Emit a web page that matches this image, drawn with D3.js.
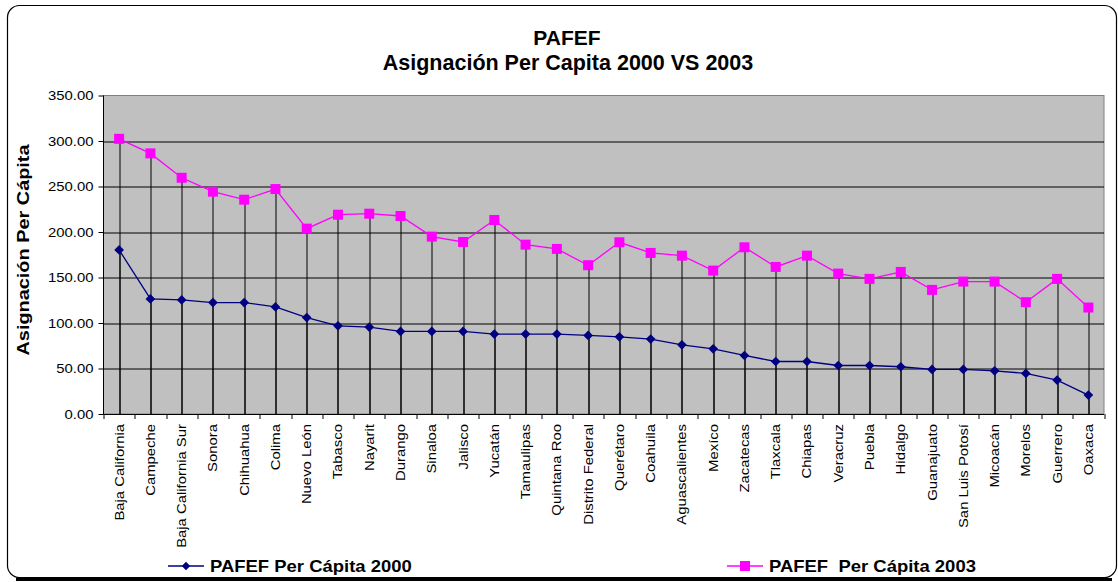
<!DOCTYPE html>
<html>
<head>
<meta charset="utf-8">
<script src="https://cdn.jsdelivr.net/npm/d3@7"></script>
<style>
  body { margin: 0; background: #fff; }
  svg { display: block; font-family: Arial, "Liberation Sans", sans-serif; }
</style>
</head>
<body>
<svg id="chart" width="1118" height="582"></svg>
<script>
// categories (states) in the order they appear on the axis
const estados = [
  "Baja California", "Campeche", "Baja California Sur", "Sonora", "Chihuahua",
  "Colima", "Nuevo León", "Tabasco", "Nayarit", "Durango", "Sinaloa", "Jalisco",
  "Yucatán", "Tamaulipas", "Quintana Roo", "Distrito Federal", "Querétaro",
  "Coahuila", "Aguascalientes", "Mexíco", "Zacatecas", "Tlaxcala", "Chiapas",
  "Veracruz", "Puebla", "Hidalgo", "Guanajuato", "San Luis  Potosí", "Micoacán",
  "Morelos", "Guerrero", "Oaxaca"
];

const perCapita2000 = [
  180.3, 126.5, 125.4, 122.5, 122.5, 117.7, 106.0, 96.9, 95.5, 90.7, 90.7, 90.7,
  87.8, 87.8, 87.8, 86.3, 84.8, 82.3, 76.0, 71.6, 64.3, 57.7, 57.7, 53.3,
  53.3, 51.9, 49.0, 49.0, 47.5, 44.6, 37.3, 20.8
];

const perCapita2003 = [
  302.4, 286.4, 259.6, 244.3, 235.5, 247.2, 203.7, 219.0, 220.1, 217.6, 194.9, 189.0,
  213.2, 186.1, 181.4, 163.5, 188.7, 177.0, 174.0, 157.6, 183.2, 161.6, 174.0, 154.3,
  148.5, 156.1, 136.4, 145.5, 145.5, 122.9, 148.5, 117.0
];

const yTicks = [0, 50, 100, 150, 200, 250, 300, 350];

const serie2000 = "PAFEF Per Cápita 2000";
const serie2003 = "PAFEF  Per Cápita 2003";

const svg = d3.select("#chart");
const margin = { top: 95.5, right: 14, bottom: 168, left: 103.5 };
const W = 1118, H = 582;
const width = W - margin.left - margin.right;
const height = H - margin.top - margin.bottom;

// the original text is drawn a little wider than plain Arial
const SX = 1.19;

// outer frame
svg.append("rect")
  .attr("x", 7.5).attr("y", 5.5)
  .attr("width", 1109).attr("height", 572)
  .attr("rx", 12).attr("ry", 12)
  .attr("fill", "none").attr("stroke", "#000").attr("stroke-width", 1.2);
svg.append("line")
  .attr("x1", 16).attr("x2", 1112).attr("y1", 579.5).attr("y2", 579.5)
  .attr("stroke", "#000").attr("stroke-width", 3);

// titles
svg.append("text").attr("transform", "translate(567,45)")
  .attr("text-anchor", "middle").attr("font-weight", "bold").attr("font-size", 21)
  .text("PAFEF");
svg.append("text").attr("transform", "translate(568,69.5)")
  .attr("text-anchor", "middle").attr("font-weight", "bold").attr("font-size", 21.5)
  .text("Asignación Per Capita 2000 VS 2003");

const g = svg.append("g").attr("transform", `translate(${margin.left},${margin.top})`);

const x = d3.scaleBand().domain(estados).range([0, width]).paddingInner(0).paddingOuter(0);
const y = d3.scaleLinear().domain([0, 350]).range([height, 0]);
const cx = d => x(d) + x.bandwidth() / 2;

// plot area
g.append("rect").attr("width", width).attr("height", height)
  .attr("fill", "#C0C0C0").attr("stroke", "#808080").attr("stroke-width", 1);

// gridlines
g.append("g").selectAll("line").data(yTicks.filter(t => t > 0 && t < 350)).join("line")
  .attr("x1", 0).attr("x2", width)
  .attr("y1", d => Math.round(y(d)) + 0.5).attr("y2", d => Math.round(y(d)) + 0.5)
  .attr("stroke", "#000").attr("stroke-width", 1);

// drop lines for both series
[perCapita2003, perCapita2000].forEach(vals => {
  g.append("g").selectAll("line").data(estados).join("line")
    .attr("x1", d => Math.round(cx(d)) + 0.5).attr("x2", d => Math.round(cx(d)) + 0.5)
    .attr("y1", (d, i) => y(vals[i])).attr("y2", height)
    .attr("stroke", "#000").attr("stroke-width", 1);
});

// y axis
const yAxis = g.append("g")
  .call(d3.axisLeft(y).tickValues(yTicks).tickSize(5).tickPadding(4).tickFormat(d3.format(".2f")));
yAxis.selectAll("text")
  .attr("font-size", 12.5).attr("fill", "#000")
  .attr("font-family", "Arial, 'Liberation Sans', sans-serif")
  .attr("x", -10 / SX).attr("transform", `scale(${SX},1)`);
yAxis.selectAll("line,path").attr("stroke", "#000");
yAxis.select(".domain").attr("d", `M0,0V${height}`);

// x axis: ticks between categories
const xAxis = g.append("g").attr("transform", `translate(0,${height})`);
xAxis.append("line").attr("x1", 0).attr("x2", width).attr("y1", 0.5).attr("y2", 0.5)
  .attr("stroke", "#000");
xAxis.selectAll("line.tk").data(d3.range(estados.length + 1)).join("line")
  .attr("class", "tk")
  .attr("x1", i => Math.round(i * x.bandwidth()) + 0.5).attr("x2", i => Math.round(i * x.bandwidth()) + 0.5)
  .attr("y1", 0).attr("y2", 5).attr("stroke", "#000");
xAxis.selectAll("text").data(estados).join("text")
  .attr("transform", d => `translate(${cx(d) + 4.5},${10}) rotate(-90) scale(${SX},1)`)
  .attr("text-anchor", "end").attr("font-size", 12.5).attr("fill", "#000")
  .text(d => d);

// y axis title
svg.append("text")
  .attr("transform", `translate(29,250) rotate(-90) scale(1.17,1)`)
  .attr("text-anchor", "middle").attr("font-weight", "bold").attr("font-size", 17)
  .text("Asignación Per Cápita");

// series lines
const line = vals => d3.line().x((d, i) => cx(estados[i])).y(d => y(d))(vals);
g.append("path").attr("d", line(perCapita2003))
  .attr("fill", "none").attr("stroke", "#FF00FF").attr("stroke-width", 1.3);
g.append("path").attr("d", line(perCapita2000))
  .attr("fill", "none").attr("stroke", "#000080").attr("stroke-width", 1.3);

// markers
g.append("g").selectAll("rect").data(perCapita2003).join("rect")
  .attr("x", (d, i) => cx(estados[i]) - 5).attr("y", d => y(d) - 5)
  .attr("width", 10).attr("height", 10).attr("fill", "#FF00FF");
const diamond = d3.symbol().type(d3.symbolDiamond2).size(60);
g.append("g").selectAll("path").data(perCapita2000).join("path")
  .attr("transform", (d, i) => `translate(${cx(estados[i])},${y(d)})`)
  .attr("d", diamond).attr("fill", "#000080");

// legend
const legend = [
  { name: serie2000, color: "#000080", x: 168, shape: "diamond" },
  { name: serie2003, color: "#FF00FF", x: 727, shape: "square" }
];
const lg = svg.append("g");
legend.forEach(l => {
  lg.append("line").attr("x1", l.x).attr("x2", l.x + 36).attr("y1", 566).attr("y2", 566)
    .attr("stroke", l.color).attr("stroke-width", 1.3);
  if (l.shape === "square") {
    lg.append("rect").attr("x", l.x + 13).attr("y", 561).attr("width", 10).attr("height", 10)
      .attr("fill", l.color);
  } else {
    lg.append("path").attr("transform", `translate(${l.x + 18},566)`)
      .attr("d", d3.symbol().type(d3.symbolDiamond2).size(45)).attr("fill", l.color);
  }
  lg.append("text").attr("transform", `translate(${l.x + 42},572) scale(1.12,1)`)
    .attr("font-weight", "bold").attr("font-size", 16.5)
    .style("white-space", "pre")
    .text(l.name);
});
</script>
</body>
</html>
